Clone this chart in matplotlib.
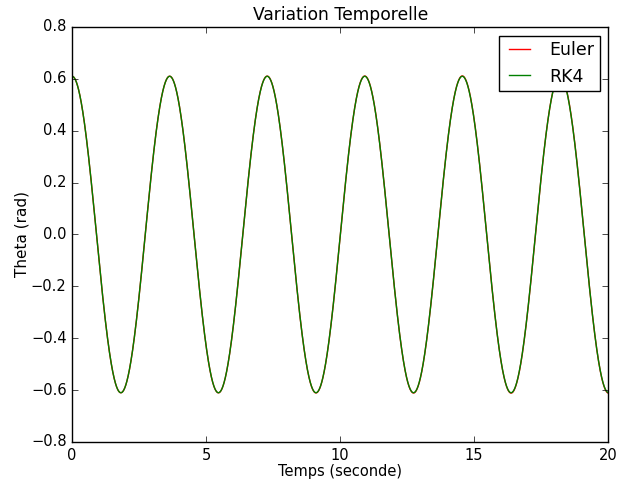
import numpy as np
import matplotlib
matplotlib.use("Agg")
import matplotlib.pyplot as plt

plt.style.use("classic")

# --- Paramètres du pendule simple ---
g = 9.81          # gravité (m/s^2)
L = 3.14          # longueur du fil (m)
theta0 = 0.61     # angle initial (rad)
omega0 = 0.0      # vitesse angulaire initiale (rad/s)
t_max = 20.0      # durée de la simulation (s)
dt = 0.0001       # pas de temps (s)


def f(theta, omega):
    return omega, -g / L * np.sin(theta)


def euler(theta, omega, h, n):
    th = np.empty(n + 1)
    th[0] = theta
    for i in range(n):
        d_th, d_om = f(theta, omega)
        theta, omega = theta + h * d_th, omega + h * d_om
        th[i + 1] = theta
    return th


def rk4(theta, omega, h, n):
    th = np.empty(n + 1)
    th[0] = theta
    for i in range(n):
        k1t, k1o = f(theta, omega)
        k2t, k2o = f(theta + h / 2 * k1t, omega + h / 2 * k1o)
        k3t, k3o = f(theta + h / 2 * k2t, omega + h / 2 * k2o)
        k4t, k4o = f(theta + h * k3t, omega + h * k3o)
        theta += h / 6 * (k1t + 2 * k2t + 2 * k3t + k4t)
        omega += h / 6 * (k1o + 2 * k2o + 2 * k3o + k4o)
        th[i + 1] = theta
    return th


n = int(round(t_max / dt))
t = np.linspace(0, t_max, n + 1)
theta_euler = euler(theta0, omega0, dt, n)
theta_rk4 = rk4(theta0, omega0, dt, n)

fig = plt.figure(figsize=(6.27, 4.82), dpi=100)
ax = fig.add_axes([0.115, 0.083, 0.855, 0.861])

ax.plot(t, theta_euler, color="r", lw=1, label="Euler")
ax.plot(t, theta_rk4, color="g", lw=1, label="RK4")

ax.set_xlim(0, 20)
ax.set_ylim(-0.8, 0.8)
ax.set_xticks([0, 5, 10, 15, 20])
ax.set_yticks(np.arange(-0.8, 0.81, 0.2))
ax.tick_params(labelsize=10.5)

ax.set_title("Variation Temporelle", fontsize=12.3)
ax.set_xlabel("Temps (seconde)", fontsize=10.5, labelpad=1)
ax.set_ylabel("Theta (rad)", fontsize=11, labelpad=1)
ax.legend(loc="upper right", fontsize=12.5, handlelength=1.8,
          borderpad=0.3, labelspacing=0.5)

fig.savefig("out.png", dpi=100)
